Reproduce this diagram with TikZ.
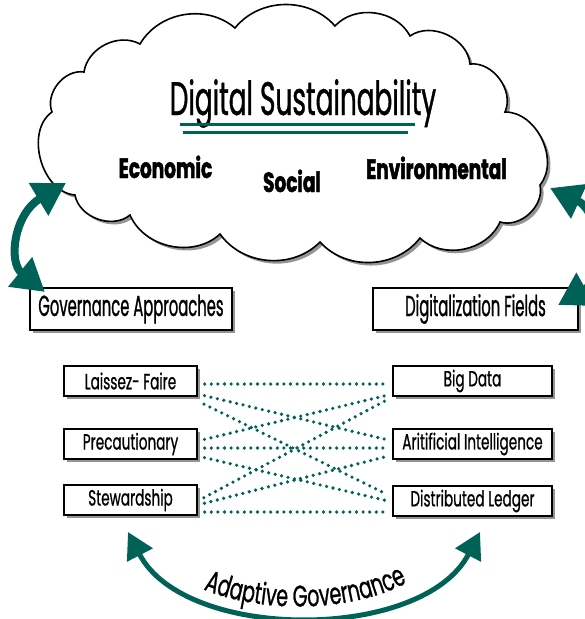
\documentclass[tikz,border=0pt]{standalone}
\usepackage{fontspec}
\newfontfamily\poptitle{Poppins}[FakeStretch=0.56,FakeBold=0.8]
\newfontfamily\popbig{Poppins}[FakeStretch=0.51,FakeBold=0.8]
\newfontfamily\popsmall{Poppins}[FakeStretch=0.62,FakeBold=0.7]
\newfontfamily\popadapt{Poppins}[FakeStretch=0.64,FakeBold=0.8]
\newfontfamily\popb{Poppins}[FakeStretch=0.66,FakeBold=1.6]
\usetikzlibrary{arrows.meta,shadows,decorations.text}
\definecolor{dsteal}{RGB}{0,98,86}
\tikzset{
  shad/.style={drop shadow={shadow xshift=3pt,shadow yshift=-3pt,fill=black,opacity=0.42}},
  bigbox/.style={draw=black,line width=1.5pt,fill=white,shad,minimum height=42pt,inner sep=0pt,font=\popbig\fontsize{29}{29}\selectfont},
  smallbox/.style={draw=black,line width=1.4pt,fill=white,shad,minimum height=30pt,inner sep=0pt,font=\popsmall\fontsize{22}{22}\selectfont},
  dotline/.style={draw=dsteal,line width=3.6pt,dash pattern=on 0pt off 6.6pt,line cap=round},
  sidearrow/.style={draw=dsteal,line width=8pt,{Triangle[length=32pt,width=36pt]}-{Triangle[length=32pt,width=36pt]}},
  botarrow/.style={draw=dsteal,line width=5pt,{Triangle[length=26pt,width=28pt]}-{Triangle[length=26pt,width=28pt]}},
  pillar/.style={font=\popb\bfseries\fontsize{28}{28}\selectfont,inner sep=0pt},
}
\begin{document}
\begin{tikzpicture}[x=1pt,y=1pt]
\useasboundingbox (0,0) rectangle (585,-619);
% cloud
\path[draw=black,line width=1.6pt,fill=white,shad]
  (75,-195) to[bend left=70] (52,-112) to[bend left=60] (84,-72)
  to[bend left=55] (140,-44) to[bend left=50] (235,-28) to[bend left=50] (335,-26)
  to[bend left=55] (410,-36) to[bend left=60] (470,-64) to[bend left=60] (505,-112)
  to[bend left=65] (540,-185) to[bend left=60] (500,-222) to[bend left=55] (420,-238)
  to[bend left=50] (320,-242) to[bend left=50] (220,-234) to[bend left=55] (130,-215)
  to[bend left=60] (75,-195) -- cycle;
\node[anchor=base,inner sep=0pt,font=\poptitle\fontsize{47}{47}\selectfont] (title) at (303,-115) {Digital Sustainability};
\draw[dsteal,line width=3pt] (180,-124) coordinate (u1a) -- (415,-124) coordinate (u1b);
\draw[dsteal,line width=3pt] (183,-132) coordinate (u2a) -- (408,-132) coordinate (u2b);
\node[pillar,anchor=base] (eco) at (165.5,-178) {Economic};
\node[pillar,anchor=base] (soc) at (292,-192) {Social};
\node[pillar,anchor=base] (env) at (436.5,-179) {Environmental};
% boxes
\node[bigbox,minimum width=202pt] (ga) at (131,-309) {Governance Approaches};
\node[bigbox,minimum width=205pt] (df) at (475.5,-309) {Digitalization Fields};
\node[smallbox,minimum width=133pt] (lf) at (130.5,-381) {Laissez- Faire};
\node[smallbox,minimum width=133pt] (pr) at (130.5,-444) {Precautionary};
\node[smallbox,minimum width=133pt] (st) at (130.5,-500) {Stewardship};
\node[smallbox,minimum width=159pt] (bd) at (472.5,-381) {Big Data};
\node[smallbox,minimum width=159pt] (ai) at (472.5,-444) {Aritificial Intelligence};
\node[smallbox,minimum width=159pt] (dl) at (472.5,-501) {Distributed Ledger};
% dotted links
\begin{scope}[shorten <=7pt,shorten >=7pt]
\draw[dotline] ([yshift=-3pt]lf.east) -- ([yshift=-3pt]bd.west);
\draw[dotline] ([yshift=-13pt]lf.east) -- ([yshift=3pt]ai.west);
\draw[dotline] ([yshift=-20pt]lf.east) -- ([yshift=4pt]dl.west);
\draw[dotline] ([yshift=3pt]pr.east) -- ([yshift=-13pt]bd.west);
\draw[dotline] ([yshift=-4pt]pr.east) -- ([yshift=-4pt]ai.west);
\draw[dotline] ([yshift=-12pt]pr.east) -- ([yshift=-1pt]dl.west);
\draw[dotline] ([yshift=-1pt]st.east) -- ([yshift=-16pt]bd.west);
\draw[dotline] ([yshift=-5pt]st.east) -- ([yshift=-11pt]ai.west);
\draw[dotline] ([yshift=-12pt]st.east) -- ([yshift=-11pt]dl.west);
\end{scope}
% arrows
\coordinate (la) at (45,-292);
\coordinate (lb) at (66,-183);
\draw[sidearrow] (la) .. controls (8,-262) and (14,-214) .. (lb);
\coordinate (ra) at (550,-188);
\coordinate (rb) at (558,-305);
\draw[sidearrow] (ra) .. controls (602,-212) and (602,-280) .. (rb);
\coordinate (ba) at (128,-532);
\coordinate (bb) at (480,-532);
\draw[botarrow] (ba) .. controls (185,-642) and (423,-642) .. (bb);
\path[decorate,decoration={text along path,text align=center,
  text={|\popadapt\fontsize{30}{30}\selectfont|Adaptive Governance}}]
  (188,-582) .. controls (250,-616) and (360,-616) .. (422,-574);
\end{tikzpicture}
\end{document}
